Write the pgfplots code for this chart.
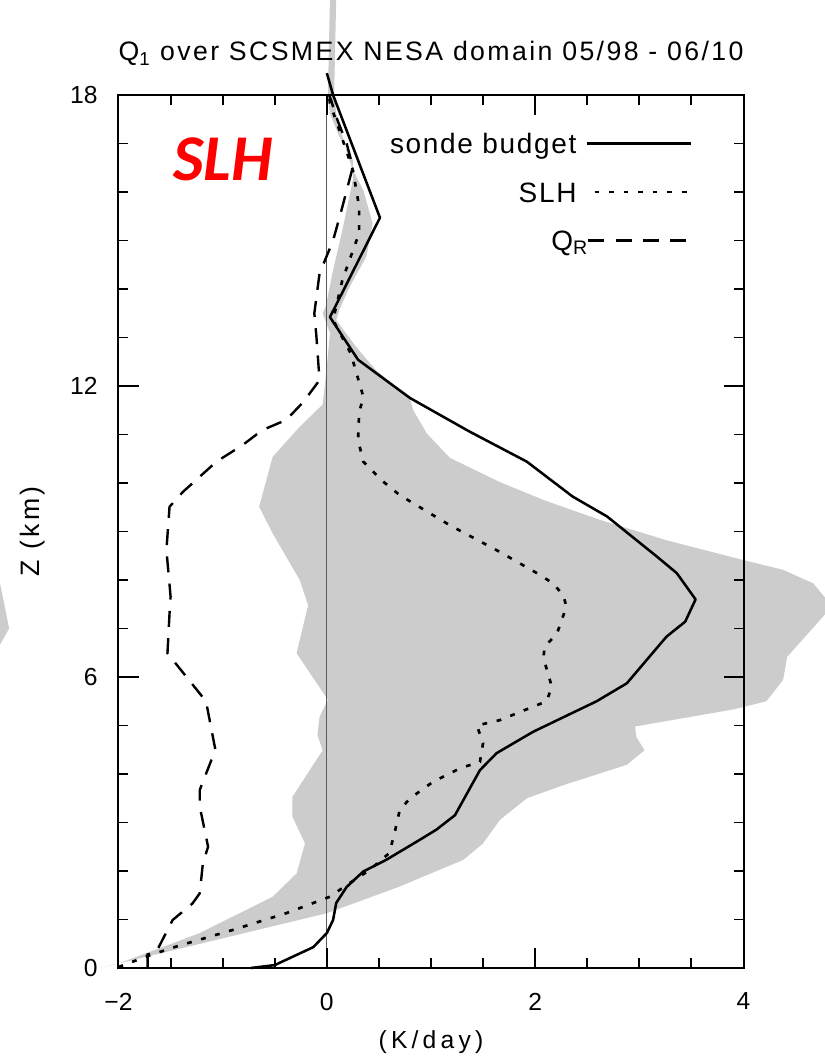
\documentclass[border=0pt]{standalone}
\usepackage{fontspec}
\setmainfont{Liberation Sans}
\newfontfamily\slhfont{Carlito}
\usepackage{pgfplots}
\pgfplotsset{compat=1.18}
\definecolor{shade}{RGB}{204,204,204}
\definecolor{slhred}{RGB}{255,0,0}
\newcommand{\legfont}{\fontsize{21}{23}\selectfont\addfontfeature{LetterSpace=6}}
\begin{document}
\begin{tikzpicture}
\begin{axis}[name=ax, scale only axis, width=468.75pt, height=654.75pt,
 xmin=-2, xmax=4, ymin=0, ymax=18, clip=false, axis on top,
 xtick={-2,0,2,4}, xticklabels={−2,0,2,4}, minor x tick num=3,
 ytick={0,6,12,18}, yticklabels={0,6,12,18}, minor y tick num=5,
 tick align=inside, major tick length=15pt, minor tick length=7.5pt,
 axis line style={line width=1.5pt},
 every tick/.style={black, line width=1.4pt},
 tick label style={font=\fontsize{18.5}{20}\selectfont, inner sep=0pt},
 xticklabel style={anchor=north, yshift=-18.5pt},
 yticklabel style={anchor=east, xshift=-15.5pt},
]
% spread (grey envelope)
\addplot[fill=shade, draw=none] coordinates {
(-2.18,0) (0,1.13) (0.70,1.68) (1.31,2.23) (1.50,2.57) (1.66,3.05) (1.92,3.5) (2.27,3.77)
(2.88,4.19) (3.05,4.49) (2.97,4.77) (2.96,4.98) (3.90,5.33) (4.22,5.5) (4.38,5.94) (4.42,6.42)
(4.48,6.56) (4.79,7.31) (4.85,7.45) (4.79,7.62) (4.67,7.93) (4.38,8.21) (4.0,8.41) (3.26,8.82)
(2.62,9.24) (2.08,9.65) (1.66,10.02) (1.18,10.52) (0.96,11.02) (0.83,11.5) (0.80,11.72)
(0.47,12.33) (0.28,12.81) (0.09,13.36) (0.12,13.57) (0.22,14.05) (0.38,14.67) (0.44,15.35)
(0.35,16.04) (0.25,16.45) (0.19,16.83) (0.09,17.62) (0.07,18) (0.09,20)
(0.03,20) (0.01,17.97) (0.03,17.62) (0.12,17.14) (0.25,16.66) (0.25,16.25) (0.15,15.22)
(0.06,14.39) (-0.01,13.64) (-0.04,13.5) (0.03,13.09) (0,12.4) (-0.04,11.62) (-0.26,11.16)
(-0.52,10.54) (-0.65,9.51) (-0.52,8.96) (-0.26,8.0) (-0.18,7.48) (-0.29,6.49) (0.01,5.53)
(-0.07,5.18) (-0.09,4.8) (-0.04,4.49) (-0.33,3.53) (-0.33,3.12) (-0.21,2.57) (-0.29,1.95)
(-0.52,1.47) (-1.22,0.72) (-1.99,0.1) (-2.18,0)
};
% neighbouring panel's shading at left edge
\addplot[fill=shade, draw=none] coordinates {
(-3.6,8.5) (-3.15,8.07) (-3.05,7.0) (-3.15,6.62) (-3.6,6.3)
};
% zero line
\addplot[black!65, line width=0.7pt] coordinates {(0,0) (0,18)};
% sonde budget
\addplot[black, line width=1.9pt, line join=round] coordinates {
(-0.73,0) (-0.5,0.06) (-0.13,0.43) (0,0.72) (0.06,0.99) (0.09,1.34) (0.19,1.67) (0.35,1.99)
(0.57,2.23) (0.89,2.64) (1.05,2.85) (1.23,3.15) (1.47,4.08) (1.63,4.43) (1.98,4.87) (2.59,5.5)
(2.88,5.87) (3.07,6.35) (3.26,6.83) (3.44,7.14) (3.54,7.6) (3.36,8.14) (3.17,8.48) (2.69,9.31)
(2.36,9.72) (1.92,10.44) (1.37,11.06) (0.80,11.75) (0.30,12.54) (0.03,13.42) (0.51,15.47)
(0.06,18) (0.0,18.45)
};
% SLH
\addplot[black, line width=2pt, dash pattern=on 3.6pt off 7.3pt] coordinates {
(-2,0.02) (-1.74,0.23) (-1.45,0.44) (-0.91,0.78) (-0.39,1.13) (0.03,1.47) (0.19,1.71) (0.41,2.02)
(0.60,2.37) (0.65,2.78) (0.70,3.26) (0.80,3.5) (1.02,3.84) (1.28,4.12) (1.47,4.25) (1.50,4.64)
(1.44,5.0) (1.66,5.11) (2.11,5.5) (2.16,5.8) (2.08,6.39) (2.09,6.62) (2.21,6.9) (2.30,7.45)
(2.27,7.69) (2.17,7.93) (2.05,8.1) (1.66,8.58) (1.18,9.13) (0.70,9.75) (0.54,10.03) (0.35,10.44)
(0.30,10.89) (0.31,11.44) (0.35,11.78) (0.23,12.67) (0.06,13.36) (0.15,14.19) (0.31,15.15)
(0.31,15.7) (0.25,16.45) (0.12,17.28) (0.03,17.83) (0.02,18)
};
% Q_R
\addplot[black, line width=1.8pt, dash pattern=on 12pt off 8.5pt] coordinates {
(-1.72,0) (-1.72,0.28) (-1.64,0.32) (-1.48,0.99) (-1.29,1.33) (-1.22,1.54) (-1.19,2.16)
(-1.14,2.5) (-1.22,3.33) (-1.22,3.67) (-1.07,4.5) (-1.16,5.5) (-1.53,6.49) (-1.51,7.31)
(-1.50,7.66) (-1.54,8.62) (-1.51,9.51) (-1.38,9.82) (-1.06,10.44) (-0.81,10.78) (-0.62,11.09)
(-0.39,11.3) (-0.23,11.66) (-0.07,12.12) (-0.10,13.02) (-0.12,13.5) (-0.07,14.32) (0.06,15.0)
(0.15,15.7) (0.25,16.52) (0.19,17.0) (0.09,17.55) (0.04,17.9) (0.02,18)
};
% legend samples
\addplot[black, line width=1.9pt] coordinates {(2.5,17) (3.5,17)};
\addplot[black, line width=2pt, dash pattern=on 3.6pt off 7.3pt] coordinates {(2.57,16) (3.5,16)};
\addplot[black, line width=1.8pt, dash pattern=on 12pt off 8.5pt] coordinates {(2.51,15) (3.5,15)};
\node[anchor=base east, inner sep=0pt, font=\legfont] at (axis cs:2.40,16.79) {sonde budget};
\node[anchor=base east, inner sep=0pt, font=\legfont] at (axis cs:2.40,15.79) {SLH};
\node[anchor=base east, inner sep=0pt, font=\legfont] at (axis cs:2.51,14.80) {Q\textsubscript{R}};
\node[inner sep=0pt, text=slhred, font=\slhfont\bfseries\itshape\fontsize{49}{50}\selectfont] at (axis cs:-1.0,16.68) {SLH};
\end{axis}
\node[anchor=base, inner sep=0pt, font=\fontsize{20}{22}\selectfont\addfontfeature{LetterSpace=9}] at ([yshift=25.5pt]ax.north) {Q\textsubscript{1} over SCSMEX NESA domain 05/98 - 06/10};
\node[inner sep=0pt, font=\fontsize{18.5}{20}\selectfont\addfontfeature{LetterSpace=17}] at ([yshift=-55.5pt]ax.south) {(K/day)};
\node[rotate=90, inner sep=0pt, font=\fontsize{20}{22}\selectfont\addfontfeature{LetterSpace=12}] at ([xshift=-64.5pt]ax.west) {Z (km)};
\pgfresetboundingbox
\path ([xshift=-88.875pt, yshift=-69.75pt]ax.south west) rectangle ([xshift=61.125pt, yshift=71.25pt]ax.north east);
\end{tikzpicture}
\end{document}
